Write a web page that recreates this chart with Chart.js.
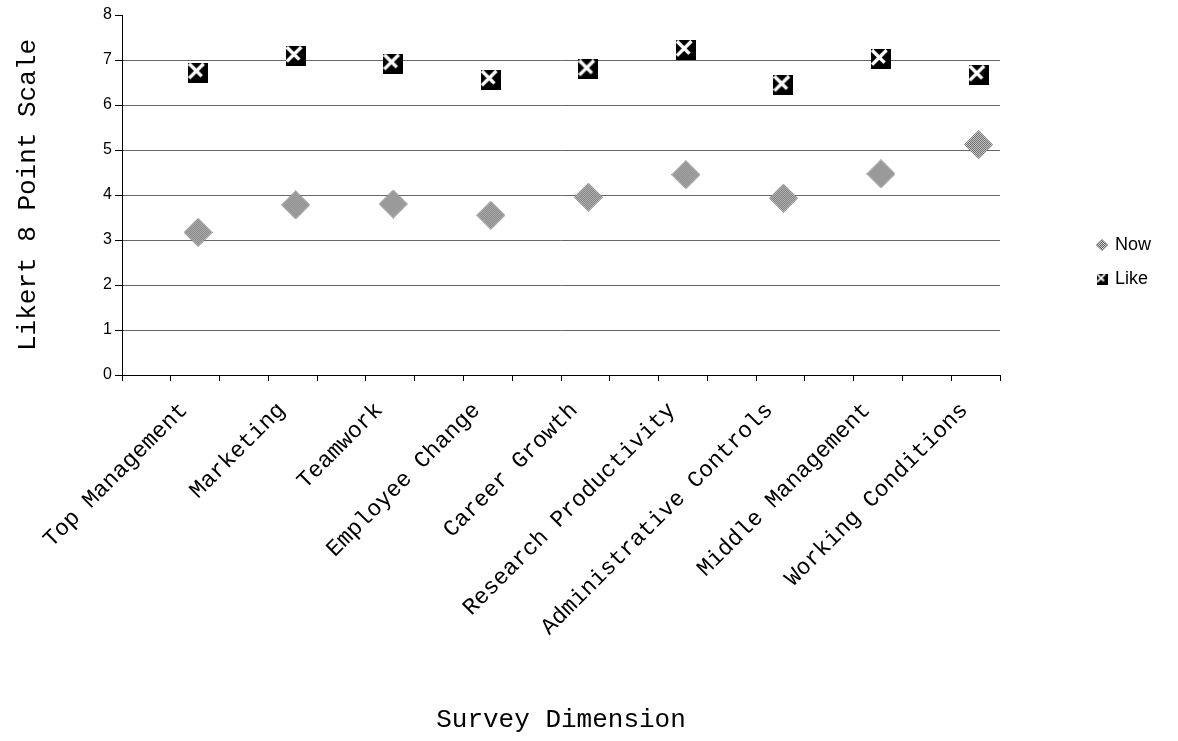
<!DOCTYPE html>
<html>
<head>
<meta charset="utf-8">
<script src="https://cdn.jsdelivr.net/npm/chart.js@4.4.1/dist/chart.umd.min.js"></script>
<style>
  html, body { margin: 0; padding: 0; background: #fff; }
  #wrap { width: 1178px; height: 741px; }
</style>
</head>
<body>
<div id="wrap"><canvas id="chart" width="1178" height="741"></canvas></div>
<script>
// Survey dimensions along the horizontal axis
const categories = [
  'Top Management', 'Marketing', 'Teamwork', 'Employee Change', 'Career Growth',
  'Research Productivity', 'Administrative Controls', 'Middle Management', 'Working Conditions'
];
// Mean scores on the 8 point Likert scale
const nowScores  = [3.17, 3.78, 3.80, 3.55, 3.95, 4.45, 3.93, 4.47, 5.12];
const likeScores = [6.72, 7.09, 6.92, 6.56, 6.79, 7.22, 6.44, 7.02, 6.67];
const seriesNames = ['Now', 'Like'];
const yTickValues = [0, 1, 2, 3, 4, 5, 6, 7, 8];

// Index scale: category i is drawn at value i; bands are one unit wide
const bandStart = -0.78;
const xMin = bandStart;
const xMax = bandStart + categories.length;

const MONO = '"Liberation Mono", "Courier New", monospace';
const SANS = '"Liberation Sans", Arial, sans-serif';

// Hatched grey diamond marker
function diamondMarker(size) {
  const c = document.createElement('canvas');
  c.width = c.height = size;
  const g = c.getContext('2d');
  const p = document.createElement('canvas');
  p.width = p.height = 2;
  const pg = p.getContext('2d');
  pg.fillStyle = '#d2d2d2'; pg.fillRect(0, 0, 2, 2);
  pg.fillStyle = '#626262'; pg.fillRect(0, 0, 1, 1); pg.fillRect(1, 1, 1, 1);
  const h = size / 2;
  g.beginPath();
  g.moveTo(h, 0.5); g.lineTo(size - 0.5, h); g.lineTo(h, size - 0.5); g.lineTo(0.5, h); g.closePath();
  g.fillStyle = g.createPattern(p, 'repeat');
  g.fill();
  g.strokeStyle = '#7a7a7a'; g.lineWidth = 1; g.stroke();
  return c;
}

// Black square with a white cross
function crossBoxMarker(size) {
  const c = document.createElement('canvas');
  c.width = c.height = size;
  const g = c.getContext('2d');
  g.fillStyle = '#000';
  g.fillRect(0, 0, size, size);
  g.strokeStyle = '#fff';
  g.lineWidth = Math.max(1.5, size * 0.17);
  g.beginPath();
  g.moveTo(size * 0.05, size * 0.05); g.lineTo(size * 0.68, size * 0.68);
  g.moveTo(size * 0.78, size * 0.05); g.lineTo(size * 0.05, size * 0.78);
  g.stroke();
  return c;
}

const markers = { Now: diamondMarker(29), Like: crossBoxMarker(20) };
const legendMarkers = { Now: diamondMarker(12), Like: crossBoxMarker(11) };

// Keeps the legend block beside the plot, level with the middle gridlines
const legendPlace = {
  id: 'legendPlace',
  afterLayout(chart) {
    const lg = chart.legend;
    if (!lg) return;
    const w = lg.width, h = lg.height;
    lg.left = 1082; lg.right = lg.left + w;
    lg.top = 220; lg.bottom = lg.top + h;
  }
};

const toPoints = arr => arr.map((v, i) => ({ x: i, y: v }));

new Chart(document.getElementById('chart'), {
  type: 'scatter',
  data: {
    datasets: [
      { label: seriesNames[0], data: toPoints(nowScores), pointStyle: markers.Now, pointRadius: 14, pointHoverRadius: 14 },
      { label: seriesNames[1], data: toPoints(likeScores), pointStyle: markers.Like, pointRadius: 10, pointHoverRadius: 10 }
    ]
  },
  options: {
    responsive: false,
    animation: false,
    devicePixelRatio: 1,
    layout: { padding: { top: 15, right: 178, bottom: 0, left: 0 } },
    plugins: {
      tooltip: { enabled: false },
      legend: {
        position: 'chartArea',
        align: 'start',
        labels: {
          usePointStyle: true,
          pointStyleWidth: 8,
          padding: 16,
          color: '#000',
          font: { family: SANS, size: 18 },
          generateLabels(chart) {
            const items = Chart.defaults.plugins.legend.labels.generateLabels(chart);
            items.forEach(it => { it.pointStyle = legendMarkers[it.text]; });
            return items;
          }
        }
      }
    },
    scales: {
      x: {
        type: 'linear',
        min: xMin,
        max: xMax,
        afterBuildTicks(scale) {
          const t = [];
          for (let k = 0; k <= categories.length * 2; k++) t.push({ value: xMin + k * 0.5 });
          categories.forEach((_, i) => t.push({ value: i }));
          t.sort((a, b) => a.value - b.value);
          scale.ticks = t;
        },
        afterFit(scale) { scale.height = 741 - 375; },
        border: { display: true, color: '#000', width: 1 },
        grid: {
          drawOnChartArea: false,
          drawTicks: true,
          tickLength: 6,
          tickColor: ctx => Number.isInteger(ctx.tick.value) ? 'rgba(0,0,0,0)' : '#000'
        },
        ticks: {
          autoSkip: false,
          minRotation: 45,
          maxRotation: 45,
          labelOffset: -14,
          padding: 16,
          color: '#000',
          font: { family: MONO, size: 23 },
          callback: v => Number.isInteger(v) ? categories[v] : ''
        },
        title: {
          display: true,
          text: 'Survey Dimension',
          color: '#000',
          font: { family: MONO, size: 26 },
          padding: { top: 0, bottom: 5 }
        }
      },
      y: {
        min: 0,
        max: 8,
        afterBuildTicks(scale) { scale.ticks = yTickValues.map(v => ({ value: v })); },
        afterFit(scale) { scale.width = 122; },
        border: { display: true, color: '#000', width: 1 },
        grid: {
          color: ctx => ctx.tick.value === 8 ? 'rgba(0,0,0,0)' : '#666',
          lineWidth: 1,
          tickLength: 7,
          tickColor: '#000'
        },
        ticks: {
          padding: 3,
          color: '#000',
          font: { family: SANS, size: 16 }
        },
        title: {
          display: true,
          text: 'Likert 8 Point Scale',
          color: '#000',
          font: { family: MONO, size: 26 },
          padding: { top: 13, bottom: 0 }
        }
      }
    }
  },
  plugins: [legendPlace]
});
</script>
</body>
</html>
